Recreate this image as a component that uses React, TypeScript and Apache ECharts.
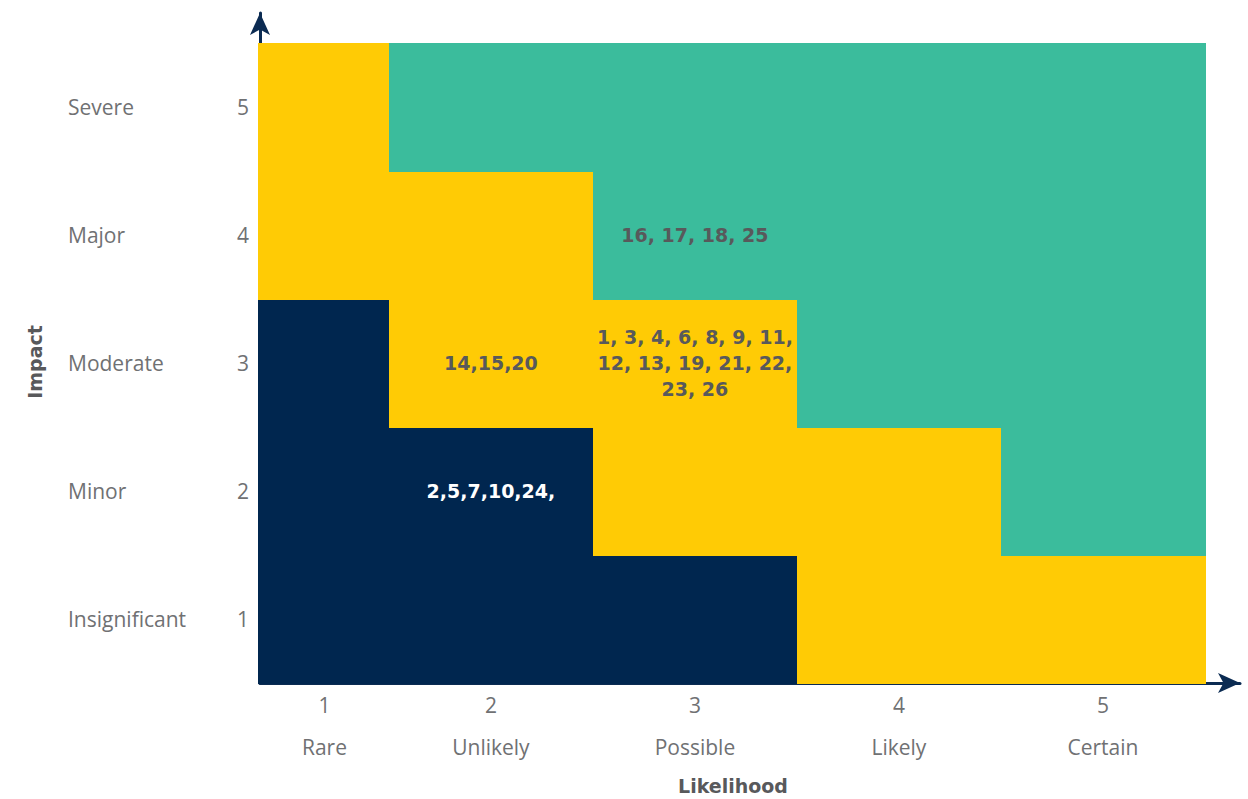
import React, { useEffect, useRef } from "react";
import * as echarts from "echarts";

const likelihoodNums = ["1", "2", "3", "4", "5"];
const likelihoodNames = ["Rare", "Unlikely", "Possible", "Likely", "Certain"];
const impactNums = ["1", "2", "3", "4", "5"];
const impactNames = ["Insignificant", "Minor", "Moderate", "Major", "Severe"];

// zone: 0 = low (navy), 1 = medium (yellow), 2 = high (teal)
// [likelihood, impact, zone]
const cells: [number, number, number][] = [
  [1, 1, 0], [2, 1, 0], [3, 1, 0], [4, 1, 1], [5, 1, 1],
  [1, 2, 0], [2, 2, 0], [3, 2, 1], [4, 2, 1], [5, 2, 2],
  [1, 3, 0], [2, 3, 1], [3, 3, 1], [4, 3, 2], [5, 3, 2],
  [1, 4, 1], [2, 4, 1], [3, 4, 2], [4, 4, 2], [5, 4, 2],
  [1, 5, 1], [2, 5, 2], [3, 5, 2], [4, 5, 2], [5, 5, 2],
];

const riskLabels: [number, number, string][] = [
  [3, 4, "16, 17, 18, 25"],
  [2, 3, "14,15,20"],
  [3, 3, "1, 3, 4, 6, 8, 9, 11,\n12, 13, 19, 21, 22,\n23, 26"],
  [2, 2, "2,5,7,10,24,"],
];

const zoneColors = ["#00264F", "#FFCB05", "#3BBC9C"];
const labelColors = ["#FFFFFF", "#58595B", "#58595B"];
const axisColor = "#0B2B52";
const textGrey = "#707173";
const FONT = "'Open Sans', Lato, sans-serif";
const BOLDFONT = "'DejaVu Sans', 'Open Sans', sans-serif";

export default function App() {
  const ref = useRef<HTMLDivElement>(null);
  useEffect(() => {
    if (!ref.current) return;
    const chart = echarts.init(ref.current, null, { renderer: "svg" });
    const xMin = 0.868;
    const xMax = 5.672;
    const yMin = 0.5;
    const yMax = 5.734;
    const firstLabelPos = (xMin + 1.5) / 2;
    const xLabelValues = [firstLabelPos, 2, 3, 4, 5];
    const labelIndex = (v: number) => {
      let best = 0;
      xLabelValues.forEach((p, i) => {
        if (Math.abs(p - v) < Math.abs(xLabelValues[best] - v)) best = i;
      });
      return best;
    };
    const axisLine = {
      show: true,
      onZero: false,
      symbol: ["none", "arrow"],
      symbolSize: [15, 22],
      lineStyle: { color: axisColor, width: 3 },
    };

    chart.setOption({
      animation: false,
      grid: { left: 260, right: 8, top: 13, bottom: 116 },
      xAxis: {
        type: "value",
        min: xMin,
        max: xMax,
        axisLine,
        axisTick: { show: false },
        splitLine: { show: false },
        axisLabel: {
          customValues: xLabelValues,
          formatter: (v: number) => {
            const i = labelIndex(v);
            return likelihoodNums[i] + "\n" + likelihoodNames[i];
          },
          color: textGrey,
          fontFamily: FONT,
          fontSize: 21,
          lineHeight: 42,
          margin: 1,
          verticalAlign: "top",
        },
      },
      yAxis: [
        {
          type: "value",
          min: yMin,
          max: yMax,
          axisLine,
          axisTick: { show: false },
          splitLine: { show: false },
          axisLabel: {
            customValues: [1, 2, 3, 4, 5],
            formatter: (v: number) => impactNums[Math.round(v) - 1],
            color: textGrey,
            fontFamily: FONT,
            fontSize: 21,
            margin: 11,
          },
        },
        {
          type: "value",
          min: yMin,
          max: yMax,
          position: "left",
          axisLine: { show: false },
          axisTick: { show: false },
          splitLine: { show: false },
          axisLabel: {
            customValues: [1, 2, 3, 4, 5],
            formatter: (v: number) => impactNames[Math.round(v) - 1],
            color: textGrey,
            fontFamily: FONT,
            fontSize: 21,
            align: "left",
            margin: 192,
          },
        },
      ],
      graphic: [
        {
          type: "text",
          x: 35,
          y: 362,
          rotation: Math.PI / 2,
          style: {
            text: "Impact",
            fill: "#58595B",
            font: `bold 19px ${BOLDFONT}`,
            align: "center",
            verticalAlign: "middle",
          },
        },
        {
          type: "text",
          x: 733,
          y: 786,
          style: {
            text: "Likelihood",
            fill: "#58595B",
            font: `bold 19px ${BOLDFONT}`,
            align: "center",
            verticalAlign: "middle",
          },
        },
      ],
      series: [
        {
          type: "custom",
          z: 1,
          data: cells,
          renderItem: (params: any, api: any) => {
            const c = api.value(0);
            const r = api.value(1);
            const z = api.value(2);
            const p0 = api.coord([c - 0.5, r + 0.5]);
            const p1 = api.coord([c + 0.5, r - 0.5]);
            const cs = params.coordSys;
            const x0 = Math.round(Math.max(p0[0], cs.x - 2));
            const x1 = Math.round(p1[0]);
            const y0 = Math.round(p0[1]);
            const y1 = Math.round(p1[1]) + 1;
            return {
              type: "rect",
              shape: { x: x0, y: y0, width: x1 - x0 + 1, height: y1 - y0 },
              style: { fill: zoneColors[z] },
            };
          },
        },
        {
          type: "custom",
          z: 3,
          data: riskLabels.map((d) => {
            const zone = cells.find((c) => c[0] === d[0] && c[1] === d[1])![2];
            return [d[0], d[1], zone, d[2]];
          }),
          renderItem: (params: any, api: any) => {
            const d = riskLabels[params.dataIndex];
            const zone = api.value(2);
            const p = api.coord([d[0], d[1]]);
            return {
              type: "text",
              x: p[0],
              y: p[1],
              style: {
                text: d[2],
                fill: labelColors[zone],
                font: `bold 19px ${BOLDFONT}`,
                lineHeight: 26,
                align: "center",
                verticalAlign: "middle",
              },
            };
          },
        },
      ],
    });
    return () => chart.dispose();
  }, []);
  return <div ref={ref} style={{ width: 1248, height: 799, position: "absolute", left: 0, top: 0 }} />;
}
